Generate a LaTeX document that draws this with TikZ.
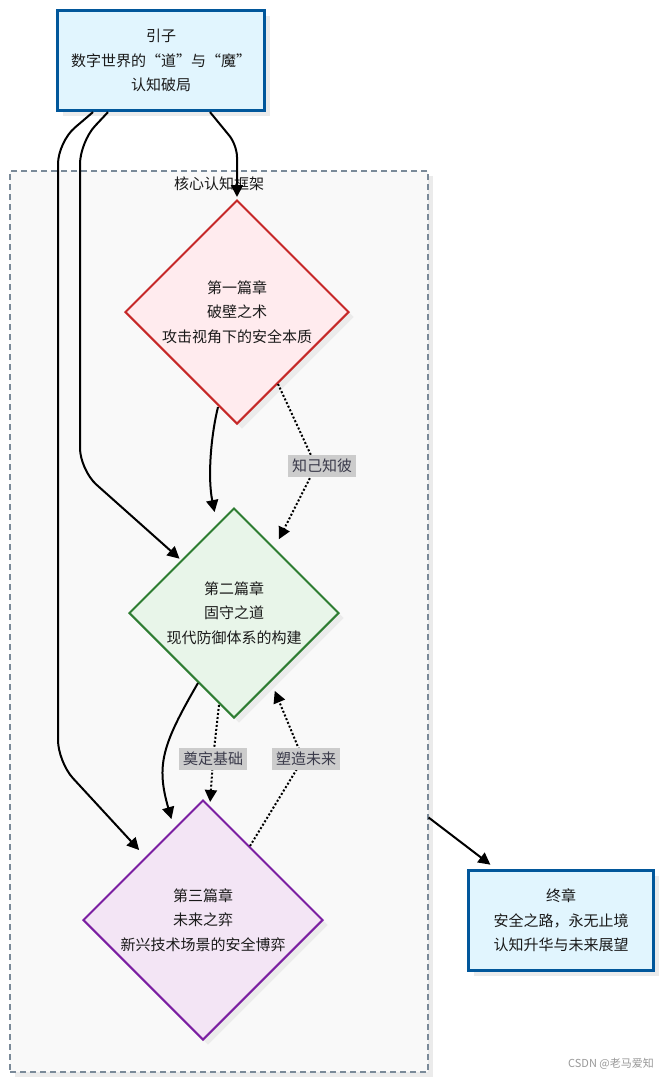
\documentclass[tikz,border=0pt]{standalone}
\usepackage{fontspec}
\newfontfamily\cjk{Noto Sans CJK SC}
\usetikzlibrary{shapes.geometric,arrows.meta,shadows}
\definecolor{boxfill}{HTML}{E1F5FE}
\definecolor{boxline}{HTML}{01579B}
\definecolor{redfill}{HTML}{FFEBEE}
\definecolor{redline}{HTML}{C62828}
\definecolor{greenfill}{HTML}{E8F5E9}
\definecolor{greenline}{HTML}{2E7D32}
\definecolor{purplefill}{HTML}{F3E5F5}
\definecolor{purpleline}{HTML}{7B1FA2}
\definecolor{clusterfill}{HTML}{F9F9F9}
\definecolor{clusterline}{HTML}{7A8A99}
\definecolor{lblgray}{HTML}{CCCCCC}
\definecolor{lbltext}{HTML}{3A3A4A}
\definecolor{txtgray}{HTML}{1A1A1A}
\begin{document}
\begin{tikzpicture}[x=1pt,y=-1pt,
		every node/.style={font=\cjk\fontsize{15}{24.5}\selectfont,align=center,text=txtgray},
		boxshadow/.style={drop shadow={shadow xshift=5pt,shadow yshift=-5pt,fill=black!8,opacity=1}},
		titlebox/.style={rectangle,draw=boxline,fill=boxfill,line width=3.2pt,boxshadow},
		chapter/.style={diamond,aspect=1,inner sep=0pt,line width=2pt,boxshadow},
		flow/.style={line width=2pt,-{Triangle[length=12pt,width=12pt]},shorten >=2pt},
		hint/.style={flow,dash pattern=on 2pt off 2pt},
		hintlbl/.style={fill=lblgray,text=lbltext,inner xsep=4pt,inner ysep=4pt}]
		\fill [white] (0,0) rectangle (664,1080);
		\useasboundingbox (0,0) rectangle (664,1080);
		\node [rectangle,draw=clusterline,fill=clusterfill,line width=1.2pt,dash pattern=on 6pt off 4pt,boxshadow,minimum width=418pt,minimum height=901pt] (core) at (219,621.5) {};
		\node (corelbl) at (219,184) {核心认知框架};
		\node [titlebox,minimum width=207pt,minimum height=100pt] (intro) at (161,60.5) {引子\\数字世界的“道”与“魔”\\认知破局};
		\node [chapter,draw=redline,fill=redfill,minimum size=224pt] (ch1) at (237,312) {第一篇章\\破壁之术\\攻击视角下的安全本质};
		\node [chapter,draw=greenline,fill=greenfill,minimum size=210pt] (ch2) at (234,613) {第二篇章\\固守之道\\现代防御体系的构建};
		\node [chapter,draw=purpleline,fill=purplefill,minimum size=240pt] (ch3) at (203,920) {第三篇章\\未来之弈\\新兴技术场景的安全博弈};
		\node [titlebox,minimum width=185pt,minimum height=100pt] (fin) at (561,920.5) {终章\\安全之路，永无止境\\认知升华与未来展望};
		\coordinate (B1) at (237,145);
		\coordinate (B2a) at (80,142);
		\coordinate (B2b) at (80,470);
		\coordinate (B3a) at (58,142);
		\coordinate (B3b) at (58,762);
		\coordinate (K1) at (316,466);
		\coordinate (K2) at (213,759);
		\coordinate (K3) at (303,759);
		\draw [flow,rounded corners=12pt] ([shift={(49,0)}]intro.south) -- (B1) -- (ch1.north);
		\draw [flow,rounded corners=22pt] ([shift={(-53,0)}]intro.south) -- (B2a) -- (B2b) -- (ch2.north west);
		\draw [flow,rounded corners=22pt] ([shift={(-68,0)}]intro.south) -- (B3a) -- (B3b) -- ([shift={(-2,-8)}]ch3.north west);
		\draw [flow] ([shift={(-19,-18)}]ch1.south) .. controls (210,440) and (208,480) .. ([shift={(-19,7)}]ch2.north);
		\draw [hint] ([shift={(41,-41)}]ch1.south) -- (K1) -- ([shift={(44,34)}]ch2.north);
		\draw [flow] ([shift={(-36,-36)}]ch2.south) .. controls (162,745) and (156,765) .. ([shift={(-31,22)}]ch3.north);
		\draw [hint] ([shift={(-15,-14)}]ch2.south) -- (K2) -- ([shift={(7,5)}]ch3.north);
		\draw [hint] ([shift={(47,47)}]ch3.north) -- (K3) -- ([shift={(40,-30)}]ch2.south);
		\draw [flow] ([shift={(0,196)}]core.east) -- ([shift={(-69,-3)}]fin.north);
		\node [hintlbl] (L1) at (322,466) {知己知彼};
		\node [hintlbl] (L2) at (213,759) {奠定基础};
		\node [hintlbl] (L3) at (306,759) {塑造未来};
		\node [font=\cjk\fontsize{11}{13}\selectfont,text=black!40] (mark) at (611,1064) {CSDN @老马爱知};
	\end{tikzpicture}
\end{document}
